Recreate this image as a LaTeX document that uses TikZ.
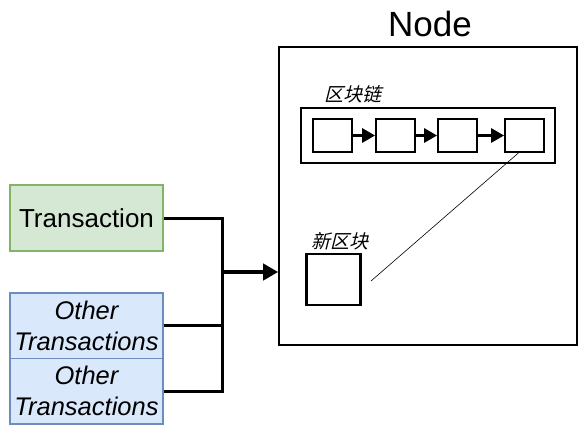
\documentclass[tikz,border=0pt]{standalone}
\usepackage{fontspec}
\setmainfont{Liberation Sans}
\newfontfamily\cjk[FakeSlant=0.25]{Noto Sans CJK SC}
\usetikzlibrary{arrows.meta}
\begin{document}
\begin{tikzpicture}[x=1pt,y=-1pt,
  tx/.style={draw=txgreenline, fill=txgreen, line width=1.5pt, minimum width=153pt, minimum height=66pt, inner sep=0pt, font=\fontsize{26}{29}\selectfont},
  ot/.style={draw=otblue, fill=otbluefill, line width=1.5pt, minimum width=153pt, minimum height=65.5pt, inner sep=0pt, align=center, font=\fontsize{25.5}{31}\selectfont\itshape},
  blk/.style={draw, line width=1.8pt, minimum width=39pt, minimum height=33pt, inner sep=0pt},
  conn/.style={line width=3pt},
  lbl/.style={font=\cjk\fontsize{19}{21}\selectfont, inner sep=0pt}
]
\definecolor{txgreen}{HTML}{D5E8D4}
\definecolor{txgreenline}{HTML}{82B366}
\definecolor{otblue}{HTML}{6C8EBF}
\definecolor{otbluefill}{HTML}{DAE8FC}
\useasboundingbox (0,0) rectangle (585,433);
% Node container
\node[draw, line width=1.6pt, minimum width=298pt, minimum height=298pt, inner sep=0pt] (node) at (428,196) {};
\node[font=\fontsize{35}{40}\selectfont, inner sep=0pt] (nodelbl) at (430,24) {Node};
% chain
\node[draw, line width=1.8pt, minimum width=254pt, minimum height=55pt, inner sep=0pt] (chain) at (428,135.5) {};
\node[lbl, anchor=west] (chainlbl) at (324,94) {区块链};
\node[blk] (b1) at (332.5,135.5) {};
\node[blk] (b2) at (395.5,135.5) {};
\node[blk] (b3) at (457.5,135.5) {};
\node[blk] (b4) at (524.5,135.5) {};
\foreach \a/\b in {b1/b2,b2/b3,b3/b4}
  \draw[line width=3pt, -{Triangle[length=13pt,width=14pt]}] (\a) -- (\b);
% new block
\node[draw, line width=2.8pt, minimum width=54pt, minimum height=51pt, inner sep=0pt] (nb) at (333.5,279.5) {};
\node[lbl, anchor=west] (nblbl) at (311,241) {新区块};
\coordinate (lineend) at (371,281);
\draw[line width=0.6pt] (lineend) -- ([xshift=-6pt]b4.south);
% transactions
\node[tx] (tx) at (86.5,218) {Transaction};
\node[ot] (o1) at (86.5,325.75) {Other\\Transactions};
\node[ot] (o2) at (86.5,391.25) {Other\\Transactions};
\coordinate (j) at (222,272);
\draw[conn] (tx.east) -| (j);
\draw[conn] (o1.east) -| (j);
\draw[conn] (o2.east) -| (j);
\draw[line width=4pt, -{Triangle[length=15pt,width=16pt]}] (j) -- (node.west |- j);
\end{tikzpicture}
\end{document}
